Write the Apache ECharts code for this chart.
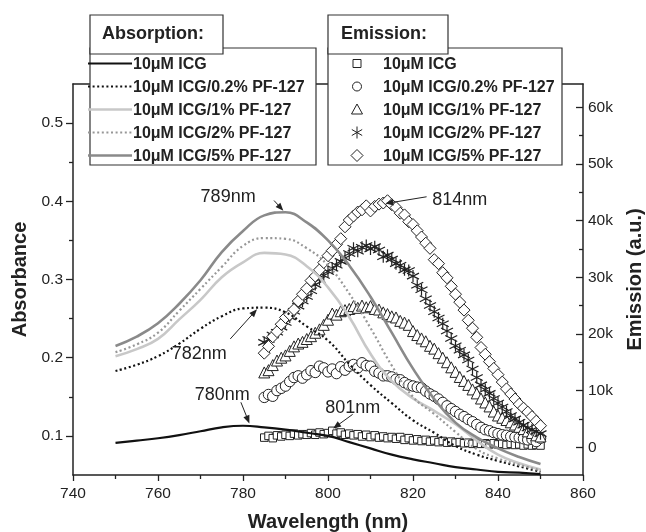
<!DOCTYPE html>
<html>
<head>
<meta charset="utf-8">
<script src="https://cdn.jsdelivr.net/npm/echarts@6/dist/echarts.min.js"></script>
<style>
html, body { margin: 0; padding: 0; background: #fff; }
#container { width: 646px; height: 532px; }
</style>
</head>
<body>
<div id="container"></div>
<script>
// absorbance spectra (left axis)
var absWl = [750, 755, 760, 765, 770, 775, 780, 785, 790, 795, 800, 805, 810, 815, 820, 825, 830, 835, 840, 845, 850];
var absICG   = [0.091, 0.094, 0.097, 0.101, 0.106, 0.111, 0.113, 0.111, 0.108, 0.104, 0.100, 0.092, 0.084, 0.076, 0.070, 0.065, 0.060, 0.057, 0.054, 0.053, 0.051];
var absPF02  = [0.183, 0.191, 0.202, 0.218, 0.237, 0.253, 0.263, 0.264, 0.258, 0.240, 0.222, 0.192, 0.165, 0.142, 0.120, 0.104, 0.087, 0.076, 0.068, 0.061, 0.054];
var absPF1   = [0.202, 0.211, 0.224, 0.249, 0.274, 0.303, 0.322, 0.334, 0.332, 0.317, 0.290, 0.252, 0.205, 0.170, 0.148, 0.132, 0.115, 0.094, 0.076, 0.065, 0.057];
var absPF2   = [0.207, 0.217, 0.232, 0.260, 0.288, 0.316, 0.343, 0.353, 0.352, 0.340, 0.318, 0.282, 0.238, 0.190, 0.150, 0.128, 0.105, 0.083, 0.071, 0.063, 0.056];
var absPF5   = [0.215, 0.227, 0.244, 0.269, 0.299, 0.335, 0.362, 0.382, 0.386, 0.373, 0.350, 0.318, 0.278, 0.232, 0.186, 0.147, 0.117, 0.098, 0.084, 0.073, 0.064];

// emission spectra (right axis, thousands)
var emWl = [785, 786, 787, 788, 789, 790, 791, 792, 793, 794, 795, 796, 797, 798, 799, 800, 801, 802, 803, 804, 805, 806,
            807, 808, 809, 810, 811, 812, 813, 814, 815, 816, 817, 818, 819, 820, 821, 822, 823, 824, 825, 826, 827, 828,
            829, 830, 831, 832, 833, 834, 835, 836, 837, 838, 839, 840, 841, 842, 843, 844, 845, 846, 847, 848, 849, 850];
var emICG  = [1.7, 2.0, 1.6, 2.1, 1.9, 2.2, 2.0, 2.4, 2.1, 2.3, 2.2, 2.5, 2.2, 2.6, 2.3, 2.5, 2.9, 2.4, 2.6, 2.2, 2.4, 2.1,
              2.3, 1.9, 2.2, 1.8, 2.1, 1.7, 1.9, 1.6, 1.8, 1.5, 1.8, 1.3, 1.6, 1.2, 1.4, 1.1, 1.3, 1.0, 1.2, 0.9, 1.1, 0.8,
              1.0, 0.8, 0.9, 0.7, 0.8, 0.6, 0.8, 0.6, 0.7, 0.5, 0.7, 0.5, 0.6, 0.4, 0.6, 0.4, 0.5, 0.3, 0.5, 0.3, 0.4, 0.3];
var emPF02 = [8.8, 9.3, 9.0, 10.0, 10.4, 10.8, 11.6, 12.3, 12.6, 12.2, 12.8, 13.5, 13.2, 14.3, 14.0, 13.3, 13.8, 13.0, 14.2, 13.6, 14.3, 14.6,
              14.0, 14.9, 14.4, 14.3, 13.4, 13.1, 12.6, 12.6, 12.4, 12.0, 11.9, 11.4, 11.0, 10.8, 10.6, 10.5, 9.9, 9.4, 9.0, 8.5, 7.9, 7.3,
              6.8, 6.3, 5.8, 5.4, 4.9, 4.5, 4.0, 3.5, 3.1, 2.9, 2.6, 2.4, 2.2, 2.1, 1.9, 1.8, 1.7, 1.5, 1.3, 1.4, 1.0, 1.6];
var emPF1  = [13.2, 13.6, 14.5, 15.3, 15.8, 16.2, 17.0, 17.8, 18.3, 18.6, 19.1, 19.6, 20.2, 20.8, 21.6, 22.5, 23.6, 23.4, 24.0, 24.2, 24.4, 24.9,
              24.6, 25.0, 24.7, 24.9, 24.4, 24.3, 23.8, 23.5, 23.1, 22.9, 22.3, 22.0, 21.6, 20.5, 19.8, 19.2, 18.7, 17.9, 17.4, 16.6, 15.8, 15.0,
              14.1, 13.3, 12.4, 11.7, 11.0, 10.2, 9.5, 8.6, 7.9, 7.2, 6.3, 5.6, 5.2, 4.8, 4.4, 4.0, 3.6, 3.2, 2.8, 2.5, 2.1, 1.9];
var emPF2  = [18.5, 19.0, 19.8, 20.3, 21.2, 22.0, 23.0, 24.0, 24.9, 25.8, 26.6, 27.6, 28.7, 29.6, 30.3, 31.0, 31.6, 32.1, 32.8, 33.4, 34.2, 35.1,
              34.6, 35.3, 35.6, 35.0, 35.4, 34.8, 33.6, 33.9, 33.2, 32.4, 32.1, 31.3, 31.2, 30.2, 28.6, 27.8, 26.2, 25.0, 23.9, 22.8, 21.8, 20.5,
              19.2, 17.9, 17.1, 16.3, 15.4, 13.8, 12.3, 11.0, 10.2, 9.5, 8.6, 7.8, 7.1, 6.3, 5.6, 5.0, 4.4, 3.9, 3.4, 3.1, 2.8, 2.4];
var emPF5  = [16.6, 17.8, 19.5, 20.4, 21.7, 22.9, 23.4, 24.3, 25.8, 27.0, 28.0, 29.4, 30.2, 31.3, 32.6, 33.8, 34.7, 35.8, 36.8, 38.9, 40.1, 40.8,
              41.5, 41.9, 42.6, 41.7, 42.5, 42.9, 43.1, 43.5, 42.8, 42.3, 41.3, 41.0, 39.8, 39.3, 38.2, 37.1, 36.0, 35.1, 33.1, 32.4, 30.8, 29.9,
              28.4, 27.0, 25.6, 24.2, 22.4, 21.0, 19.4, 17.6, 16.4, 15.1, 13.9, 12.8, 11.5, 10.3, 9.4, 8.5, 7.6, 6.9, 6.2, 5.4, 4.6, 3.8];

var seriesNames = ['10\u03bcM ICG', '10\u03bcM ICG/0.2% PF-127', '10\u03bcM ICG/1% PF-127', '10\u03bcM ICG/2% PF-127', '10\u03bcM ICG/5% PF-127'];

var xTicks = [740, 860, 20];
var absLabels = [0.1, 0.2, 0.3, 0.4, 0.5];
var absMinor = [0.15, 0.25, 0.35, 0.45];
var emLabels = [0, 10, 20, 30, 40, 50, 60];
var emMinor = [5, 15, 25, 35, 45, 55];

// peak annotations: text position, arrow start, arrow end (data units), axis 0 = absorbance, 1 = emission
var notes = [
    {text: '789nm', axis: 0, at: [776.5, 0.405], from: [787.3, 0.401], to: [789.5, 0.388]},
    {text: '782nm', axis: 0, at: [769.7, 0.205], from: [777.0, 0.224], to: [783.3, 0.262]},
    {text: '780nm', axis: 0, at: [775.1, 0.152], from: [779.5, 0.143], to: [781.5, 0.116]},
    {text: '801nm', axis: 1, at: [805.8, 7.0], from: [805.8, 5.8], to: [801.2, 3.3]},
    {text: '814nm', axis: 1, at: [831.0, 43.6], from: [823.2, 44.2], to: [813.5, 43.0]}
];

var FONT = '"Liberation Sans", Arial, Helvetica, sans-serif';
var INK = '#222';

var absStyles = [
    {color: '#111', width: 2.2, type: 'solid'},
    {color: '#111', width: 2.2, type: [2, 2.6]},
    {color: '#c8c8c8', width: 2.6, type: 'solid'},
    {color: '#979797', width: 2.2, type: [2, 2.6]},
    {color: '#8a8a8a', width: 2.6, type: 'solid'}
];
var starPath = 'path://M0,-10L0,10M-8.66,-5L8.66,5M-8.66,5L8.66,-5';
var emSymbols = [
    {symbol: 'rect', size: 7.5},
    {symbol: 'circle', size: 10.5},
    {symbol: 'triangle', size: 11},
    {symbol: starPath, size: 12},
    {symbol: 'diamond', size: 12}
];

function pairs(xs, ys) {
    var out = [];
    for (var i = 0; i < xs.length; i++) out.push([xs[i], ys[i]]);
    return out;
}

var absSets = [absICG, absPF02, absPF1, absPF2, absPF5];
var emSets = [emICG, emPF02, emPF1, emPF2, emPF5];

var series = [];
for (var i = 0; i < emSets.length; i++) {
    var isStar = i === 3;
    series.push({
        name: 'em ' + seriesNames[i],
        type: 'scatter',
        xAxisIndex: 0,
        yAxisIndex: 1,
        symbol: emSymbols[i].symbol,
        symbolSize: emSymbols[i].size,
        itemStyle: {color: isStar ? INK : '#fff', borderColor: INK, borderWidth: isStar ? 1.2 : 1, opacity: 1},
        z: 2,
        silent: true,
        animation: false,
        data: pairs(emWl, emSets[i])
    });
}
for (var j = 0; j < absSets.length; j++) {
    series.push({
        name: 'abs ' + seriesNames[j],
        type: 'line',
        xAxisIndex: 0,
        yAxisIndex: 0,
        smooth: 0.45,
        showSymbol: false,
        lineStyle: {color: absStyles[j].color, width: absStyles[j].width, type: absStyles[j].type},
        z: 3,
        silent: true,
        animation: false,
        data: pairs(absWl, absSets[j])
    });
}

var axisLine = {show: true, onZero: false, lineStyle: {color: INK, width: 1.5}};
var tickLine = {color: INK, width: 1.3};
var labelFont = {fontSize: 15.5, color: INK, fontFamily: FONT};
var nameFont = {fontSize: 20, fontWeight: 'bold', color: INK, fontFamily: FONT};

var option = {
    backgroundColor: '#fff',
    animation: false,
    grid: {left: 73, right: 63, top: 84, bottom: 57, containLabel: false, outerBoundsMode: 'none'},
    xAxis: [
        {
            type: 'value', position: 'bottom', min: xTicks[0], max: xTicks[1], interval: xTicks[2],
            axisLine: axisLine,
            axisTick: {show: true, length: 6, lineStyle: tickLine},
            minorTick: {show: true, splitNumber: 2, length: 4, lineStyle: tickLine},
            axisLabel: Object.assign({margin: 11}, labelFont),
            splitLine: {show: false},
            name: 'Wavelength (nm)', nameLocation: 'middle', nameGap: 37, nameTextStyle: nameFont
        },
        {
            type: 'value', position: 'top', min: xTicks[0], max: xTicks[1],
            axisLine: axisLine, axisTick: {show: false}, axisLabel: {show: false}, splitLine: {show: false}
        }
    ],
    yAxis: [
        {
            type: 'value', position: 'left', min: 0.05, max: 0.55,
            axisLine: axisLine,
            axisTick: {show: true, length: 7, lineStyle: tickLine, customValues: absLabels},
            axisLabel: Object.assign({margin: 10, customValues: absLabels, formatter: function (v) { return v.toFixed(1); }}, labelFont),
            splitLine: {show: false},
            name: 'Absorbance', nameLocation: 'middle', nameGap: 43, nameRotate: 90, nameTextStyle: nameFont
        },
        {
            type: 'value', position: 'right', min: -4.9, max: 64.1,
            axisLine: axisLine,
            axisTick: {show: true, inside: true, length: 7, lineStyle: tickLine, customValues: emLabels},
            axisLabel: Object.assign({margin: 5, customValues: emLabels, formatter: function (v) { return v === 0 ? '0' : v + 'k'; }}, labelFont),
            splitLine: {show: false},
            name: 'Emission (a.u.)', nameLocation: 'middle', nameGap: 42, nameRotate: 90, nameTextStyle: nameFont
        },
        {
            type: 'value', position: 'left', min: 0.05, max: 0.55,
            axisLine: {show: false},
            axisTick: {show: true, length: 4, lineStyle: tickLine, customValues: absMinor},
            axisLabel: {show: false}, splitLine: {show: false}
        },
        {
            type: 'value', position: 'right', min: -4.9, max: 64.1,
            axisLine: {show: false},
            axisTick: {show: true, inside: true, length: 4, lineStyle: tickLine, customValues: emMinor},
            axisLabel: {show: false}, splitLine: {show: false}
        }
    ],
    series: series
};

var myChart = echarts.init(document.getElementById('container'), null, {renderer: 'canvas'});
myChart.setOption(option);

// legends drawn as boxed panels like the original figure
var rowY = [63.5, 86.5, 109.5, 132.5, 155.5];
function textEl(str, x, y, font, align) {
    return {
        type: 'text', x: x, y: y, z: 103,
        style: {text: str, font: font, fill: INK, align: align || 'left', textAlign: align || 'left',
                verticalAlign: 'middle', textVerticalAlign: 'middle'}
    };
}
function boxEl(x, y, w, h, z) {
    return {type: 'rect', z: z, shape: {x: x, y: y, width: w, height: h},
            style: {fill: '#fff', stroke: '#333', lineWidth: 1.2}};
}
var graphics = [];
graphics.push(boxEl(90, 48, 226, 117, 100));
graphics.push(boxEl(90, 15, 133, 39, 101));
graphics.push(textEl('Absorption:', 102, 34, 'bold 18px ' + FONT));
graphics.push(boxEl(328, 48, 234, 117, 100));
graphics.push(boxEl(328, 15, 120, 39, 101));
graphics.push(textEl('Emission:', 341, 34, 'bold 18px ' + FONT));

for (var k = 0; k < seriesNames.length; k++) {
    var ry = rowY[k];
    var st = absStyles[k];
    graphics.push({
        type: 'line', z: 102,
        shape: {x1: 88, y1: ry, x2: 132, y2: ry},
        style: {stroke: st.color, lineWidth: st.width, lineDash: st.type === 'solid' ? null : st.type}
    });
    graphics.push(textEl(seriesNames[k], 133, ry + 1, 'bold 16px ' + FONT));
    graphics.push(textEl(seriesNames[k], 383, ry + 1, 'bold 16px ' + FONT));
}
// emission legend markers
var sx = 357;
var mk = {stroke: INK, lineWidth: 1, fill: '#fff'};
graphics.push({type: 'rect', z: 102, shape: {x: sx - 4, y: rowY[0] - 4, width: 8, height: 8}, style: mk});
graphics.push({type: 'circle', z: 102, shape: {cx: sx, cy: rowY[1], r: 4.5}, style: mk});
graphics.push({type: 'polygon', z: 102, shape: {points: [[sx, rowY[2] - 5.5], [sx - 5.5, rowY[2] + 4.5], [sx + 5.5, rowY[2] + 4.5]]}, style: mk});
[[0, -6, 0, 6], [-5.2, -3, 5.2, 3], [-5.2, 3, 5.2, -3]].forEach(function (s) {
    graphics.push({type: 'line', z: 102, shape: {x1: sx + s[0], y1: rowY[3] + s[1], x2: sx + s[2], y2: rowY[3] + s[3]},
                   style: {stroke: INK, lineWidth: 1}});
});
graphics.push({type: 'polygon', z: 102, shape: {points: [[sx, rowY[4] - 6], [sx + 6, rowY[4]], [sx, rowY[4] + 6], [sx - 6, rowY[4]]]}, style: mk});

// peak annotations with arrows, placed through the chart's own axes
function toPx(p, axis) {
    return [myChart.convertToPixel({xAxisIndex: 0}, p[0]), myChart.convertToPixel({yAxisIndex: axis}, p[1])];
}
notes.forEach(function (n) {
    var t = toPx(n.at, n.axis), a = toPx(n.from, n.axis), b = toPx(n.to, n.axis);
    graphics.push(textEl(n.text, t[0], t[1], '18px ' + FONT, 'center'));
    var dx = b[0] - a[0], dy = b[1] - a[1], len = Math.sqrt(dx * dx + dy * dy);
    var ux = dx / len, uy = dy / len, L = 8, W = 3.2;
    graphics.push({type: 'line', z: 90, shape: {x1: a[0], y1: a[1], x2: b[0] - ux * L * 0.6, y2: b[1] - uy * L * 0.6},
                   style: {stroke: INK, lineWidth: 1}});
    graphics.push({type: 'polygon', z: 90, shape: {points: [
        [b[0], b[1]],
        [b[0] - ux * L - uy * W, b[1] - uy * L + ux * W],
        [b[0] - ux * L + uy * W, b[1] - uy * L - ux * W]
    ]}, style: {fill: INK}});
});

myChart.setOption({graphic: graphics});
</script>
</body>
</html>
